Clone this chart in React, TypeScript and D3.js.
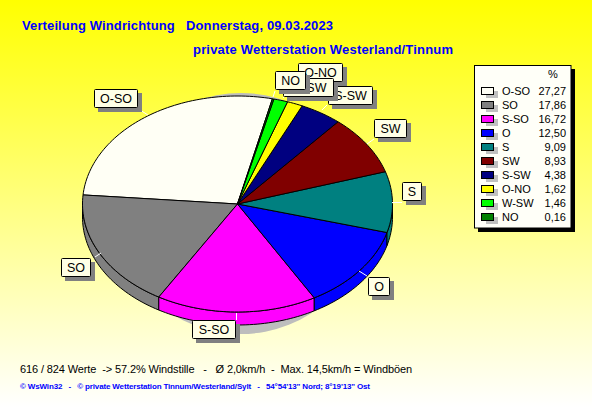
import React from "react";
import * as d3 from "d3";

const W = 592, H = 407;
const categories = ["O-SO", "SO", "S-SO", "O", "S", "SW", "S-SW", "O-NO", "W-SW", "NO"];
const values = [27.27, 17.86, 16.72, 12.5, 9.09, 8.93, 4.38, 1.62, 1.46, 0.16];
const valueLabels = ["27,27", "17,86", "16,72", "12,50", "9,09", "8,93", "4,38", "1,62", "1,46", "0,16"];
const colors = ["#fffff5", "#808080", "#ff00ff", "#0000ff", "#008080", "#800000", "#000080", "#ffff00", "#00ff00", "#008000"];
// label box: left, top, width
const labelBoxes: [number, number, number][] = [[94, 89, 44], [61, 258, 30], [192, 320, 44], [368, 277, 22], [402, 182, 20], [374, 119, 33], [328, 86, 45], [298, 63, 45], [283, 78, 51], [275, 71, 31]];
const leaderLines: [number, number, number, number][] = [[140, 110, 148, 115], [95, 257, 101, 253], [236.5, 313, 236.5, 320], [359, 271, 367, 276], [392, 202.5, 402, 202.5], [367, 144, 374, 139], [322, 110, 327, 105], [283, 98, 285, 96], [283, 98, 285, 96], [273, 97, 275, 91]];
const labelOrder = [0, 1, 2, 3, 4, 5, 7, 6, 8, 9];

const cx = 237.5, cy = 204, rx = 155, ry = 108, depth = 13;
const mainFont = "Liberation Sans, Arial, sans-serif";

const pie = d3.pie<number>().sort(null).value((d) => d).startAngle((13 * Math.PI) / 180).endAngle((-347 * Math.PI) / 180);
const arcs = pie(values);
const px = d3.scaleLinear().domain([-1, 1]).range([cx - rx, cx + rx]);
const py = d3.scaleLinear().domain([-1, 1]).range([cy - ry, cy + ry]);
const pt = (a: number): [number, number] => [px(Math.sin(a)), py(-Math.cos(a))];

function slicePath(a0: number, a1: number) {
  const n = Math.max(2, Math.ceil(Math.abs(a1 - a0) * 40));
  const pts = d3.range(n + 1).map((i) => pt(a0 + ((a1 - a0) * i) / n));
  return d3.line()([[cx, cy], ...pts]) + "Z";
}
function wallPath(a0: number, a1: number) {
  // visible wall: the part of the slice on the front half of the ellipse
  const lo = Math.min(a0, a1), hi = Math.max(a0, a1);
  const s = Math.max(lo, (-270 * Math.PI) / 180), e = Math.min(hi, (-90 * Math.PI) / 180);
  if (e <= s) return null;
  const n = Math.ceil((e - s) * 40);
  const top = d3.range(n + 1).map((i) => pt(s + ((e - s) * i) / n));
  const bot = top.map(([x, y]) => [x, y + depth] as [number, number]).reverse();
  return d3.line()([...top, ...bot]) + "Z";
}

export default function App() {
  React.useEffect(() => { document.body.style.margin = "0"; document.body.style.overflow = "hidden"; }, []);
  const legendY = d3.scaleLinear().domain([0, 9]).range([95, 221]);
  return (
    <svg width={W} height={H} style={{ display: "block" }} fontFamily={mainFont}>
      <defs>
        <linearGradient id="bg" x1="0" y1="0" x2="0" y2="1">
          <stop offset="0" stopColor="#ffff00" />
          <stop offset="1" stopColor="#ffffff" />
        </linearGradient>
      </defs>
      <rect width={W} height={H} fill="url(#bg)" />
      <g fontWeight="bold" fontSize="13" fill="#0000ff">
        <text x={22} y={30} xmlSpace="preserve" textLength={311}>Verteilung Windrichtung   Donnerstag, 09.03.2023</text>
        <text x={193} y={54} textLength={260}>private Wetterstation Westerland/Tinnum</text>
      </g>
      <ellipse cx={241} cy={213.5} rx={125} ry={120.5} fill="#bdbdbd" />
      {arcs.map((a, i) => {
        const d = wallPath(a.startAngle, a.endAngle);
        return d ? <path key={i} d={d} fill={colors[i]} stroke="#000" strokeWidth={1} /> : null;
      })}
      {arcs.map((a, i) => (
        <path key={i} d={slicePath(a.startAngle, a.endAngle)} fill={colors[i]} stroke="#000" strokeWidth={1} />
      ))}
      {labelOrder.map((i) => {
        const [x, y, w] = labelBoxes[i];
        const [x1, y1, x2, y2] = leaderLines[i];
        return (
          <g key={categories[i]}>
            <line x1={x1} y1={y1} x2={x2} y2={y2} stroke="#ffffff" />
            <rect x={x + 4} y={y + 4} width={w} height={19} fill="#808080" />
            <rect x={x + 0.5} y={y + 0.5} width={w - 1} height={18} rx={1} fill="#ffffe6" stroke="#000" />
            <text x={x + w / 2} y={y + 14} textAnchor="middle" fontSize="12.5" fill="#000">{categories[i]}</text>
          </g>
        );
      })}
      <rect x={478} y={69} width={97} height={163} fill="#000" />
      <rect x={474.5} y={65.5} width={96.5} height={162.5} fill="#fffff8" stroke="#000" />
      <text x={553} y={78} fontSize="11" textAnchor="middle" fill="#000">%</text>
      {categories.map((c, i) => (
        <g key={c} fontSize="11" fill="#000">
          <rect x={486} y={legendY(i) - 4} width={12} height={7} fill="#c0c0c0" />
          <rect x={481.5} y={legendY(i) - 7.5} width={12} height={7} fill={colors[i]} stroke="#000" />
          <text x={502} y={legendY(i)}>{c}</text>
          <text x={566} y={legendY(i)} textAnchor="end">{valueLabels[i]}</text>
        </g>
      ))}
      <text x={20} y={373} fontSize="11" fill="#000" xmlSpace="preserve" textLength={392}>616 / 824 Werte  -&gt; 57.2% Windstille   -   Ø 2,0km/h  -  Max. 14,5km/h = Windböen</text>
      <text x={20} y={389} fontSize="8" fontWeight="bold" fill="#0000ff" xmlSpace="preserve" textLength={350}>© WsWin32   -   © private Wetterstation Tinnum/Westerland/Sylt   -   54°54'13" Nord; 8°19'13" Ost</text>
    </svg>
  );
}
